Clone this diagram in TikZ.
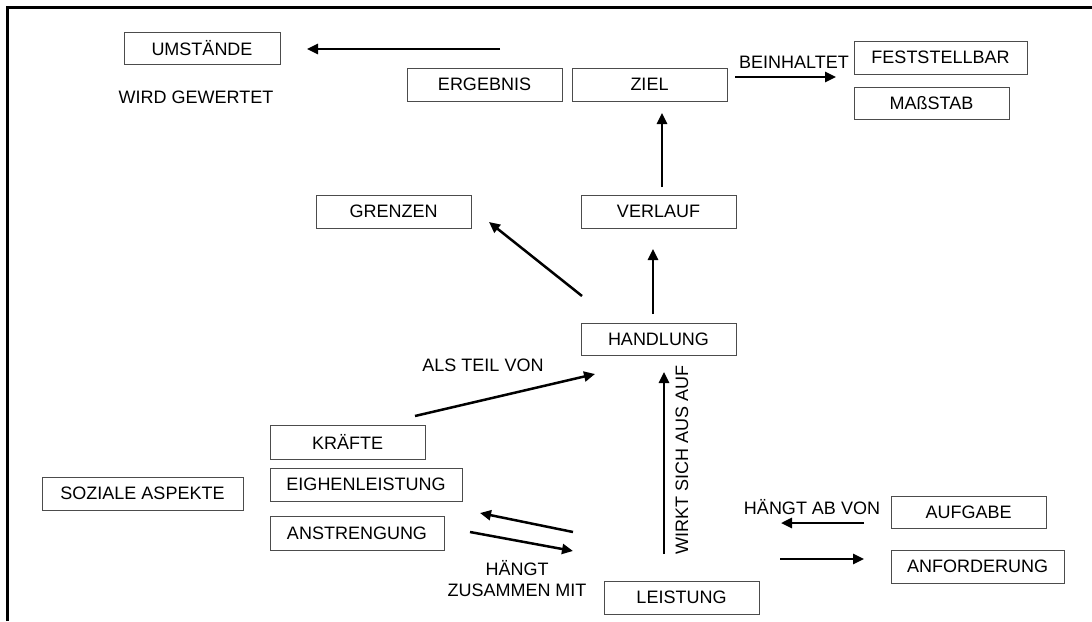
\documentclass[tikz,border=0pt]{standalone}
\usepackage{fontspec}
\setmainfont{Liberation Sans}
\usetikzlibrary{arrows.meta}
\begin{document}
\begin{tikzpicture}[x=1pt,y=-1pt,
  every node/.style={font=\fontsize{18}{21}\selectfont, inner sep=0pt},
  box/.style={draw=black!70, line width=1pt, minimum width=155pt, minimum height=33pt},
  lbl/.style={align=center},
  arr/.style={line width=2.5pt, -{Triangle[length=11pt,width=10pt]}}]
\useasboundingbox (0,0) rectangle (1092,621);
% frame
\draw[line width=2.5pt] (7.5,621) -- (7.5,7.5) -- (1092,7.5);
% boxes
\node[box, minimum width=156pt, minimum height=32pt] (umst) at (202,48) {UMSTÄNDE};
\node[box] (ergeb) at (484.5,84.5) {ERGEBNIS};
\node[box] (ziel) at (649.5,84.5) {ZIEL};
\node[box, minimum width=173pt] (fest) at (940.5,57.5) {FESTSTELLBAR};
\node[box, minimum height=32pt] (mass) at (931.5,103) {MAßSTAB};
\node[box] (grenz) at (393.5,211.5) {GRENZEN};
\node[box] (verl) at (658.5,211.5) {VERLAUF};
\node[box, minimum height=32pt] (handl) at (658.5,339) {HANDLUNG};
\node[box, minimum height=34pt] (kraft) at (347.5,442) {KRÄFTE};
\node[box, minimum width=192pt] (eigh) at (366,484.5) {EIGHENLEISTUNG};
\node[box, minimum width=201pt] (sozi) at (142.5,493.5) {SOZIALE ASPEKTE};
\node[box, minimum width=174pt, minimum height=34pt] (anstr) at (357,533) {ANSTRENGUNG};
\node[box, minimum height=32pt] (aufg) at (968.5,512) {AUFGABE};
\node[box, minimum width=173pt] (anfo) at (977.5,566.5) {ANFORDERUNG};
\node[box] (leist) at (681.5,597.5) {LEISTUNG};
% labels
\node[lbl] (lwird) at (196,97) {WIRD GEWERTET};
\node[lbl] (lbein) at (794,62) {BEINHALTET};
\node[lbl] (lals) at (483,365) {ALS TEIL VON};
\node[lbl, rotate=90] (lwirkt) at (682,460) {WIRKT SICH AUS AUF};
\node[lbl] (lhab) at (812,507) {HÄNGT AB VON};
\node[lbl] (lhz) at (517,579) {HÄNGT\\ZUSAMMEN MIT};
% arrow end points
\coordinate (a1s) at (500,49);  \coordinate (a1e) at (307,49);
\coordinate (a2s) at (735,77);  \coordinate (a2e) at (836,77);
\coordinate (a3s) at (662,187); \coordinate (a3e) at (662,113);
\coordinate (a4s) at (582,296); \coordinate (a4e) at (489,222);
\coordinate (a5s) at (653,314); \coordinate (a5e) at (653,249);
\coordinate (a6s) at (415,416); \coordinate (a6e) at (595,374);
\coordinate (a7s) at (664,554); \coordinate (a7e) at (664,372);
\coordinate (a8s) at (573,532); \coordinate (a8e) at (480,513);
\coordinate (a9s) at (470,532); \coordinate (a9e) at (573,551);
\coordinate (a10s) at (864,523); \coordinate (a10e) at (781,523);
\coordinate (a11s) at (780,559); \coordinate (a11e) at (864,559);
% arrows
\draw[arr] (a1s) -- (a1e);
\draw[arr] (a2s) -- (a2e);
\draw[arr] (a3s) -- (a3e);
\draw[arr] (a4s) -- (a4e);
\draw[arr] (a5s) -- (a5e);
\draw[arr] (a6s) -- (a6e);
\draw[arr] (a7s) -- (a7e);
\draw[arr] (a8s) -- (a8e);
\draw[arr] (a9s) -- (a9e);
\draw[arr] (a10s) -- (a10e);
\draw[arr] (a11s) -- (a11e);
\end{tikzpicture}
\end{document}
